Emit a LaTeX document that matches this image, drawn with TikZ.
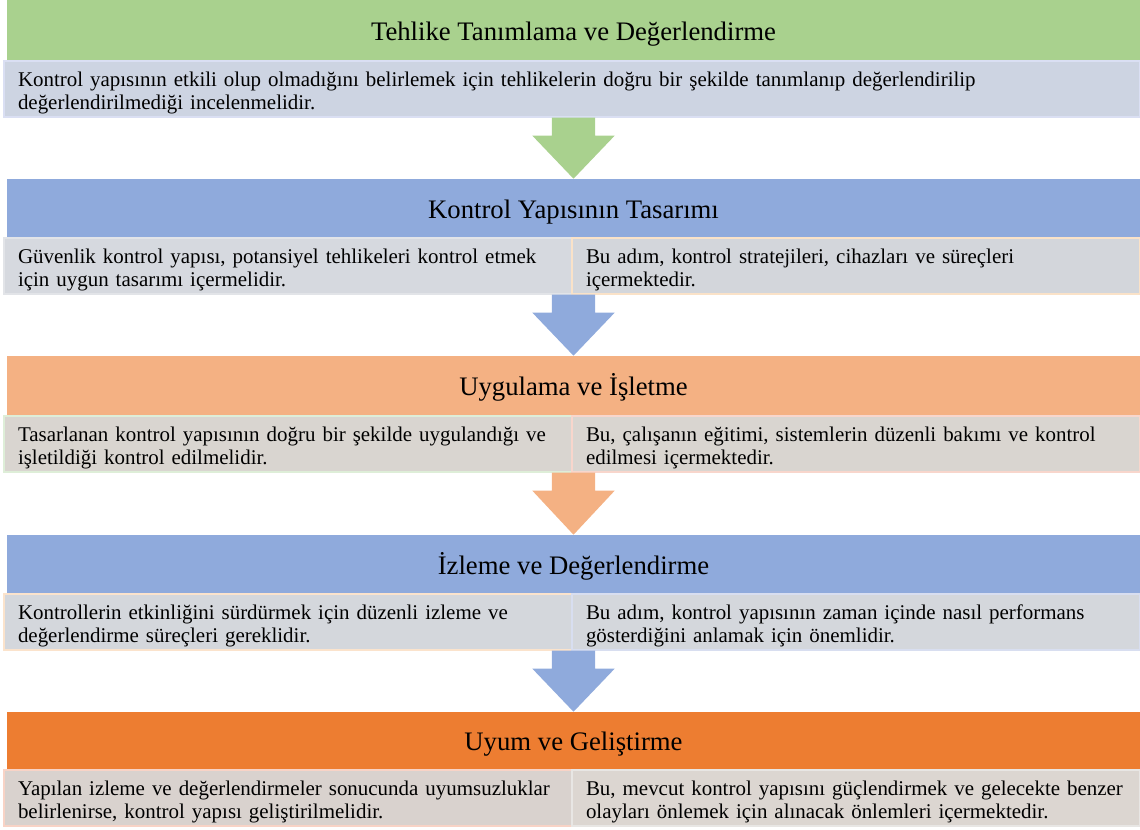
\documentclass[tikz,border=0pt]{standalone}
\usepackage{fontspec}
\setmainfont{Liberation Serif}
\usepackage{tikz}
\usetikzlibrary{calc}

\definecolor{hgreen}{HTML}{A9D18E}
\definecolor{hblue}{HTML}{8FAADC}
\definecolor{hpeach}{HTML}{F4B183}
\definecolor{horange}{HTML}{ED7D31}

\begin{document}
\begin{tikzpicture}[
    header/.style={minimum width=28.325cm, minimum height=1.5cm, inner sep=0pt,
                   text height=0.55cm, text depth=0.07cm,
                   font=\fontsize{19}{22}\selectfont},
    bodywide/.style={minimum width=28.4cm, minimum height=1.4cm, text width=27.7cm,
                     inner xsep=0.35cm, inner ysep=0pt, align=left, line width=0.9pt,
                     text height=0.625cm, text depth=0.775cm,
                     font=\fontsize{14.9}{16.7}\selectfont},
    bodyhalf/.style={bodywide, minimum width=14.2cm, text width=13.5cm}
  ]
          \useasboundingbox (0,0) rectangle (28.5,-20.725);
          % Tehlike Tanimlama
          \node[header, fill=hgreen, minimum height=1.525cm] (h1) at (14.3375,-0.7625) {Tehlike Tanımlama ve Değerlendirme};
          \node[bodywide, fill={rgb,255:red,205;green,212;blue,226}, draw={rgb,255:red,218;green,223;blue,243}] (b1) at (14.3,-2.225)
            {Kontrol yapısının etkili olup olmadığını belirlemek için tehlikelerin doğru bir şekilde tanımlanıp değerlendirilip\\değerlendirilmediği incelenmelidir.};
          % Kontrol Yapisinin Tasarimi
          \node[header, fill=hblue, minimum height=1.475cm] (h2) at (14.3375,-5.2125) {Kontrol Yapısının Tasarımı};
          \node[bodyhalf, fill={rgb,255:red,214;green,217;blue,223}, draw={rgb,255:red,226;green,228;blue,232}] (b2l) at (7.2,-6.65)
            {Güvenlik kontrol yapısı, potansiyel tehlikeleri kontrol etmek\\için uygun tasarımı içermelidir.};
          \node[bodyhalf, fill={rgb,255:red,211;green,214;blue,219}, draw={rgb,255:red,250;green,226;blue,200}] (b2r) at (21.4,-6.65)
            {Bu adım, kontrol stratejileri, cihazları ve süreçleri\\içermektedir.};
          % Uygulama ve Isletme
          \node[header, fill=hpeach] (h3) at (14.3375,-9.65) {Uygulama ve İşletme};
          \node[bodyhalf, fill={rgb,255:red,217;green,213;blue,208}, draw={rgb,255:red,222;green,238;blue,216}] (b3l) at (7.2,-11.1)
            {Tasarlanan kontrol yapısının doğru bir şekilde uygulandığı ve\\işletildiği kontrol edilmelidir.};
          \node[bodyhalf, fill={rgb,255:red,217;green,213;blue,208}, draw={rgb,255:red,248;green,214;blue,204}] (b3r) at (21.4,-11.1)
            {Bu, çalışanın eğitimi, sistemlerin düzenli bakımı ve kontrol\\edilmesi içermektedir.};
          % Izleme ve Degerlendirme
          \node[header, fill=hblue, minimum height=1.475cm] (h4) at (14.3375,-14.1125) {İzleme ve Değerlendirme};
          \node[bodyhalf, fill={rgb,255:red,212;green,215;blue,220}, draw={rgb,255:red,251;green,227;blue,204}] (b4l) at (7.2,-15.55)
            {Kontrollerin etkinliğini sürdürmek için düzenli izleme ve\\değerlendirme süreçleri gereklidir.};
          \node[bodyhalf, fill={rgb,255:red,212;green,215;blue,220}, draw={rgb,255:red,216;green,222;blue,240}] (b4r) at (21.4,-15.55)
            {Bu adım, kontrol yapısının zaman içinde nasıl performans\\gösterdiğini anlamak için önemlidir.};
          % Uyum ve Gelistirme
          \node[header, fill=horange, minimum height=1.45cm] (h5) at (14.3375,-18.525) {Uyum ve Geliştirme};
          \node[bodyhalf, fill={rgb,255:red,217;green,210;blue,206}, draw={rgb,255:red,248;green,211;blue,198}] (b5l) at (7.2,-19.95)
            {Yapılan izleme ve değerlendirmeler sonucunda uyumsuzluklar\\belirlenirse, kontrol yapısı geliştirilmelidir.};
          \node[bodyhalf, fill={rgb,255:red,220;green,214;blue,209}, draw={rgb,255:red,232;green,230;blue,228}] (b5r) at (21.4,-19.95)
            {Bu, mevcut kontrol yapısını güçlendirmek ve gelecekte benzer\\olayları önlemek için alınacak önlemleri içermektedir.};
          % arrow between Tehlike and Tasarim
          \fill[hgreen] ($(h2.north |- b1.south)+(-0.54,0)$) -- ++(1.08,0) -- ++(0,-0.45) -- ++(0.49,0) -- (h2.north)
            -- ($(h2.north |- b1.south)+(-1.03,-0.45)$) -- ++(0.49,0) -- cycle;
          % arrow between Tasarim and Uygulama
          \fill[hblue] ($(h3.north |- b2l.south)+(-0.54,0)$) -- ++(1.08,0) -- ++(0,-0.45) -- ++(0.49,0) -- (h3.north)
            -- ($(h3.north |- b2l.south)+(-1.03,-0.45)$) -- ++(0.49,0) -- cycle;
          % arrow between Uygulama and Izleme
          \fill[hpeach] ($(h4.north |- b3l.south)+(-0.54,0)$) -- ++(1.08,0) -- ++(0,-0.45) -- ++(0.49,0) -- (h4.north)
            -- ($(h4.north |- b3l.south)+(-1.03,-0.45)$) -- ++(0.49,0) -- cycle;
          % arrow between Izleme and Uyum
          \fill[hblue] ($(h5.north |- b4l.south)+(-0.54,0)$) -- ++(1.08,0) -- ++(0,-0.45) -- ++(0.49,0) -- (h5.north)
            -- ($(h5.north |- b4l.south)+(-1.03,-0.45)$) -- ++(0.49,0) -- cycle;
        \end{tikzpicture}
\end{document}
